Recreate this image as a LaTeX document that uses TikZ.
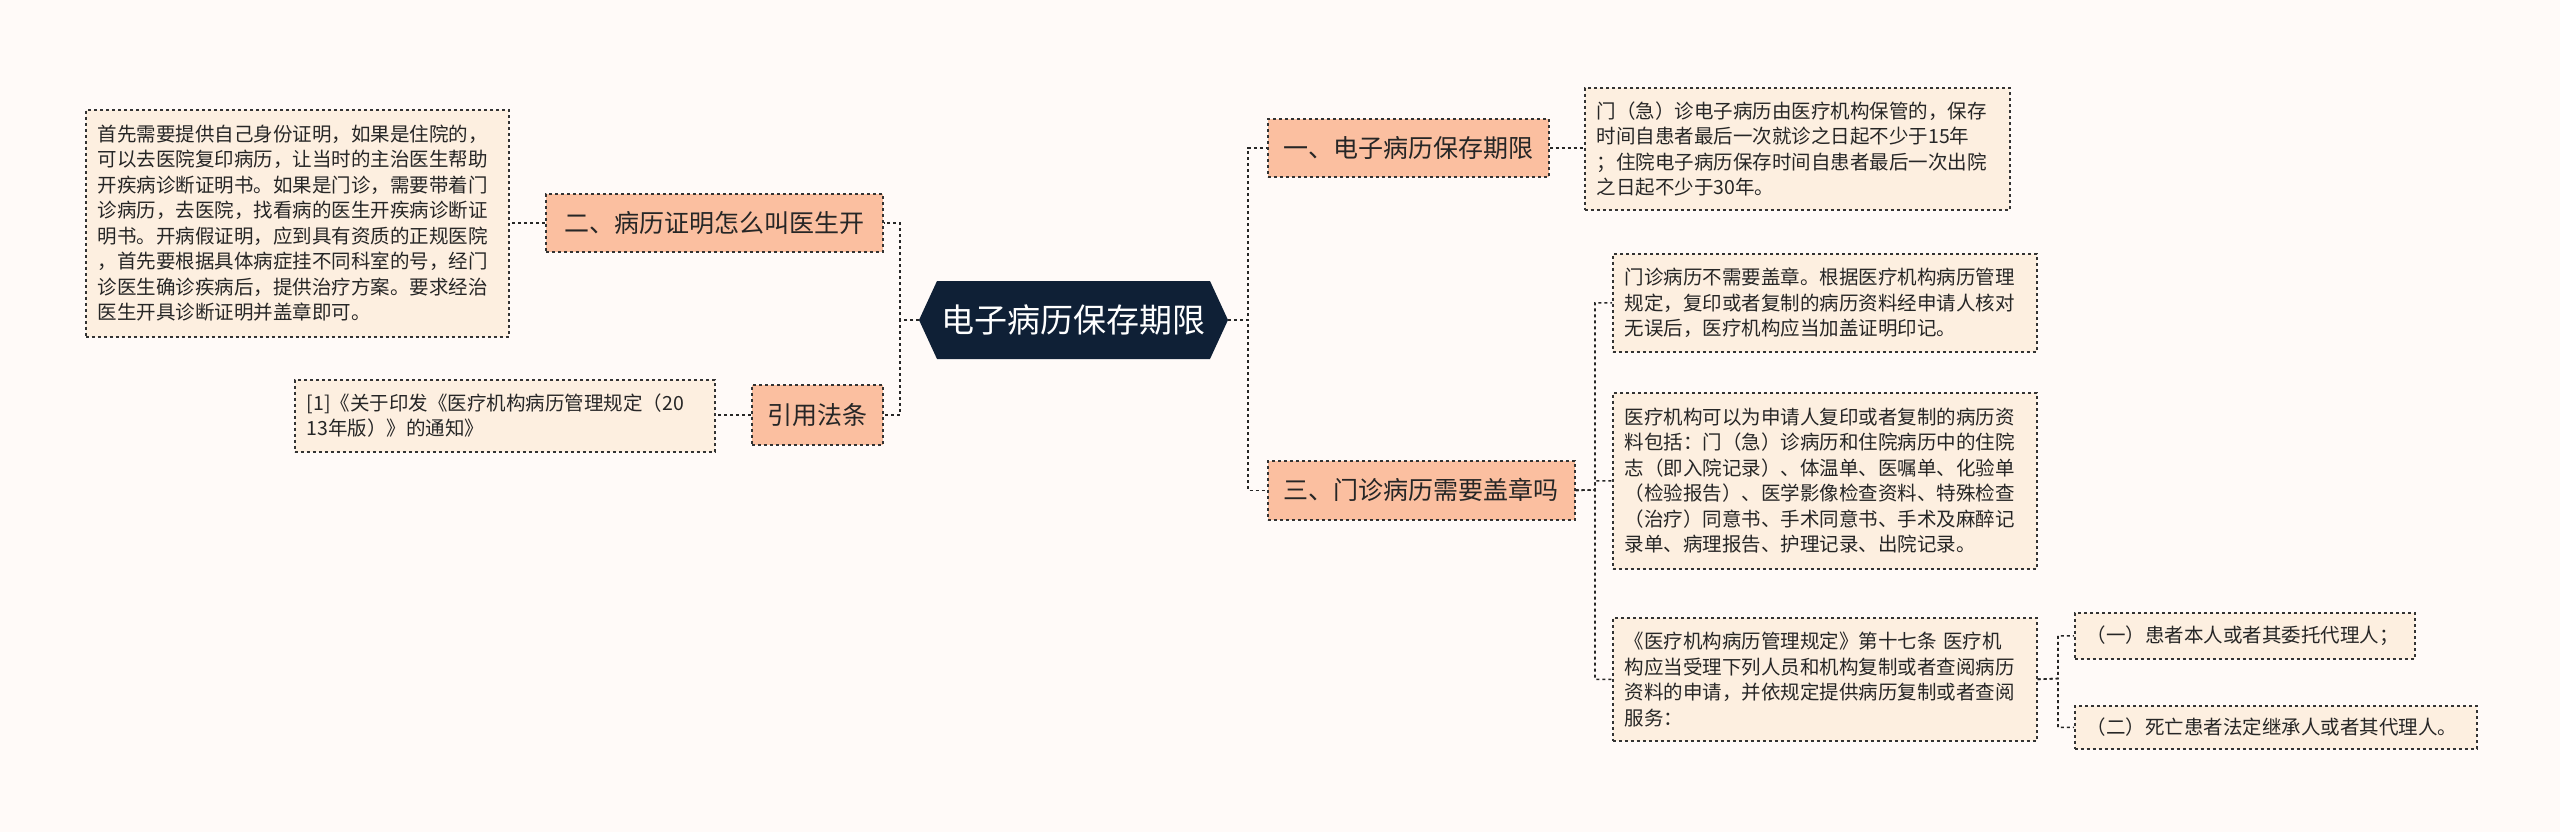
\documentclass[tikz,border=0pt]{standalone}
\usepackage{fontspec}
\setmainfont{Noto Sans CJK SC}
\begin{document}
\begin{tikzpicture}[x=1pt,y=-1pt,
  conn/.style={draw=black!85,dashed,line width=1.6pt},
  lvone/.style={draw=black!80,dashed,line width=1.6pt,fill=lvfill,anchor=north west,font=\fontsize{25}{30}\selectfont,text=black!85,inner sep=0pt,align=center},
  leaf/.style={draw=black!80,dashed,line width=1.6pt,fill=leaffill,anchor=north west,font=\fontsize{19.5}{25.5}\selectfont,text=black!85,inner xsep=12pt,inner ysep=0pt,align=left}]
\definecolor{bgc}{HTML}{FFFAF8}
\definecolor{lvfill}{HTML}{FBBFA0}
\definecolor{leaffill}{HTML}{FDEFE0}
\definecolor{navy}{HTML}{0F2036}
\fill[bgc] (0,0) rectangle (2560,832);
\useasboundingbox (0,0) rectangle (2560,832);
% center
\fill[navy] (919,320) -- (937,281) -- (1210,281) -- (1228,320) -- (1210,359) -- (937,359) -- cycle;
\node[text=white,font=\fontsize{33}{38}\selectfont] (c) at (1073.5,320) {电子病历保存期限};
\coordinate (cr) at (1228,320);
\coordinate (cl) at (919,320);
% level one
\node[lvone,minimum width=281pt,minimum height=58pt] (a) at (1267,118) {一、电子病历保存期限};
\node[lvone,minimum width=307pt,minimum height=59pt] (b) at (1267,460) {三、门诊病历需要盖章吗};
\node[lvone,minimum width=337pt,minimum height=58pt] (d) at (545,193) {二、病历证明怎么叫医生开};
\node[lvone,minimum width=131pt,minimum height=60pt] (e) at (751,384) {引用法条};
% leaves
\node[leaf,text width=401pt,minimum height=122pt] (a1) at (1584,87) {门（急）诊电子病历由医疗机构保管的，保存\\时间自患者最后一次就诊之日起不少于15年\\；住院电子病历保存时间自患者最后一次出院\\之日起不少于30年。};
\node[leaf,text width=400pt,minimum height=98pt] (b1) at (1612,253) {门诊病历不需要盖章。根据医疗机构病历管理\\规定，复印或者复制的病历资料经申请人核对\\无误后，医疗机构应当加盖证明印记。};
\node[leaf,text width=400pt,minimum height=176pt] (b2) at (1612,392) {医疗机构可以为申请人复印或者复制的病历资\\料包括：门（急）诊病历和住院病历中的住院\\志（即入院记录）、体温单、医嘱单、化验单\\（检验报告）、医学影像检查资料、特殊检查\\（治疗）同意书、手术同意书、手术及麻醉记\\录单、病理报告、护理记录、出院记录。};
\node[leaf,text width=400pt,minimum height=123pt] (b3) at (1612,617) {《医疗机构病历管理规定》第十七条 医疗机\\构应当受理下列人员和机构复制或者查阅病历\\资料的申请，并依规定提供病历复制或者查阅\\服务：};
\node[leaf,text width=316pt,minimum height=46pt] (g1) at (2074,612) {（一）患者本人或者其委托代理人；};
\node[leaf,text width=378pt,minimum height=43pt] (g2) at (2074,705) {（二）死亡患者法定继承人或者其代理人。};
\node[leaf,text width=399pt,minimum height=227pt] (d1) at (85,109) {首先需要提供自己身份证明，如果是住院的，\\可以去医院复印病历，让当时的主治医生帮助\\开疾病诊断证明书。如果是门诊，需要带着门\\诊病历，去医院，找看病的医生开疾病诊断证\\明书。开病假证明，应到具有资质的正规医院\\，首先要根据具体病症挂不同科室的号，经门\\诊医生确诊疾病后，提供治疗方案。要求经治\\医生开具诊断证明并盖章即可。};
\node[leaf,text width=396pt,minimum height=72pt] (e1) at (294,379) {[1]《关于印发《医疗机构病历管理规定（20\\13年版）》的通知》};
% connectors
\draw[conn] (cr) -- (1248,320) |- (a.west);
\draw[conn] (cr) -- (1248,320) |- (b.west);
\draw[conn] (cl) -- (900,320) |- (d.east);
\draw[conn] (cl) -- (900,320) |- (e.east);
\draw[conn] (a.east) -- (a1.west |- a.east);
\draw[conn] (b.east) -- (1595,490) |- (b1.west);
\draw[conn] (b.east) -- (1595,490) |- (b2.west);
\draw[conn] (b.east) -- (1595,490) |- (b3.west);
\draw[conn] (b3.east) -- (2058,678.5) |- (g1.west);
\draw[conn] (b3.east) -- (2058,678.5) |- (g2.west);
\draw[conn] (d.west) -- (d1.east |- d.west);
\draw[conn] (e.west) -- (e1.east |- e.west);
\end{tikzpicture}
\end{document}
